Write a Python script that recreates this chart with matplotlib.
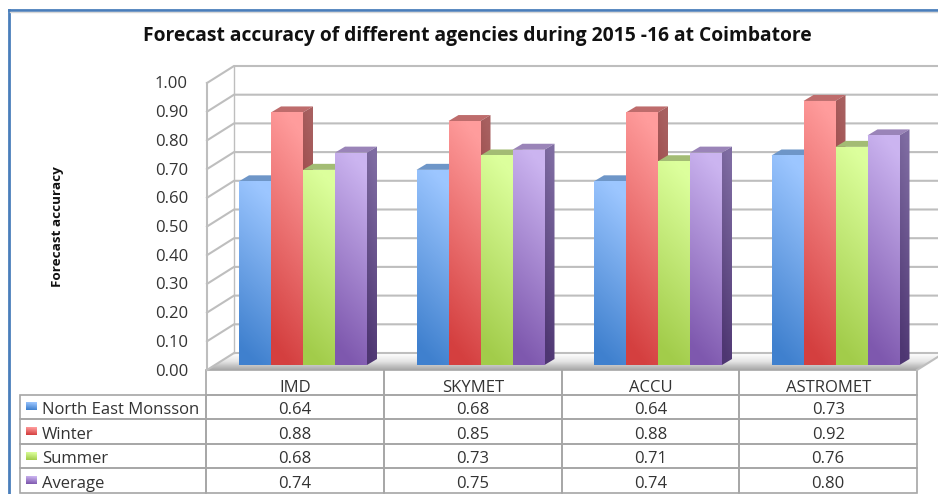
import matplotlib
matplotlib.use('Agg')
import matplotlib.pyplot as plt
import numpy as np
from matplotlib.colors import LinearSegmentedColormap
from matplotlib.patches import Polygon
from matplotlib.transforms import Affine2D

agencies = ['IMD', 'SKYMET', 'ACCU', 'ASTROMET']
seasons = ['North East Monsson', 'Winter', 'Summer', 'Average']
north_east = [0.64, 0.68, 0.64, 0.73]
winter = [0.88, 0.85, 0.88, 0.92]
summer = [0.68, 0.73, 0.71, 0.76]
average = [0.74, 0.75, 0.74, 0.80]
series = [north_east, winter, summer, average]
y_ticks = [0.0, 0.1, 0.2, 0.3, 0.4, 0.5, 0.6, 0.7, 0.8, 0.9, 1.0]

# light end, dark end of each front face, then top face and side face
front_cols = [('#9CC6FF', '#3F80CE'), ('#FF9C9C', '#D43F3F'),
              ('#DCFF9C', '#A2CC4A'), ('#CBB4F0', '#7E58AE')]
top_cols = ['#6E96C8', '#BE6C6C', '#A3BC74', '#9A84B8']
side_cols = [('#7C9CC8', '#2F5F9C'), ('#A86060', '#8E2E2E'),
             ('#93AD66', '#6F8C32'), ('#7F6CA2', '#4E3672')]

W, H = 938, 494
fig = plt.figure(figsize=(W / 100, H / 100), dpi=100)
plt.rcParams['font.family'] = ['Open Sans', 'DejaVu Sans']

# x axis runs one unit per agency, y axis is the forecast accuracy itself
ax = fig.add_axes([207 / W, (H - 370) / H, 710 / W, 287 / H])
ax.axis('off')
px = 1 / 177.5
py = 1 / 287

wall_dx, wall_dy = 27 * px, 17 * py
bar_w, bar_gap = 32 * px, 32 * px
depth_x, depth_y = 10 * px, 6 * py
base = 5 * py
grid_col = '#BEBEBE'

# slanted ramp used for every shaded face
ramp = np.linspace(0, 1, 40).reshape(-1, 1) + np.linspace(-0.08, 0.08, 10).reshape(1, -1)
ramp = np.clip(ramp, 0, 1)


def grad_fill(patch_xy, col1, col2, zorder):
    xy = np.array(patch_xy)
    cmap = LinearSegmentedColormap.from_list('g', [col2, col1])
    patch = Polygon(xy, closed=True, fc='none', ec='none')
    ax.add_patch(patch)
    im = ax.imshow(ramp, cmap=cmap, vmin=0, vmax=1, aspect='auto', origin='lower',
                   interpolation='bilinear', zorder=zorder,
                   extent=[xy[:, 0].min(), xy[:, 0].max(), xy[:, 1].min(), xy[:, 1].max()])
    im.set_clip_path(patch)
    im.set_clip_box(fig.bbox)   # keys and right side of the floor sit outside the axes


# floor
floor = [(0, 0), (4, 0), (4 + wall_dx, wall_dy), (wall_dx, wall_dy)]
floor_cmap = LinearSegmentedColormap.from_list('f', ['#A8A8A8', '#E4E4E4', '#FFFFFF'])
floor_patch = Polygon(floor, closed=True, fc='none', ec='none')
ax.add_patch(floor_patch)
im = ax.imshow(np.linspace(0, 1, 20).reshape(-1, 1), cmap=floor_cmap, aspect='auto', origin='lower',
               extent=[0, 4 + wall_dx, 0, wall_dy], zorder=1, interpolation='bilinear')
im.set_clip_path(floor_patch)
im.set_clip_box(fig.bbox)

# walls and gridlines
for t in y_ticks:
    ax.plot([0, wall_dx, 4 + wall_dx], [t, t + wall_dy, t + wall_dy], color=grid_col, lw=1.5,
            zorder=2, clip_on=False, solid_joinstyle='miter')
    ax.text(-19 * px, t - 1.5 * py, f'{t:.2f}', ha='right', va='center', fontsize=12, color='#333333')
ax.plot([0, 0], [0, 1], color=grid_col, lw=1.5, zorder=2, clip_on=False)
ax.plot([wall_dx, wall_dx], [wall_dy, 1 + wall_dy], color=grid_col, lw=1.0, zorder=2, clip_on=False)
ax.plot([4, 4 + wall_dx], [0, wall_dy], color=grid_col, lw=1.5, zorder=2, clip_on=False)

# bars, left to right so the next front face hides the previous side face
z = 3
for i in range(len(agencies)):
    for s in range(len(seasons)):
        x0 = i + bar_gap + s * bar_w
        x1 = x0 + bar_w
        y1 = base + series[s][i]
        top = [(x0, y1), (x1, y1), (x1 + depth_x, y1 + depth_y), (x0 + depth_x, y1 + depth_y)]
        ax.add_patch(Polygon(top, closed=True, fc=top_cols[s], ec='none', zorder=z))
        side = [(x1, base), (x1 + depth_x, base + depth_y), (x1 + depth_x, y1 + depth_y), (x1, y1)]
        grad_fill(side, side_cols[s][0], side_cols[s][1], z)
        front = [(x0, base), (x1, base), (x1, y1), (x0, y1)]
        grad_fill(front, front_cols[s][0], front_cols[s][1], z + 0.5)
        z += 1

# data table under the chart
row_px = 24.6
cell_text = [[''] + agencies]
for s in range(len(seasons)):
    cell_text.append([seasons[s]] + [f'{v:.2f}' for v in series[s]])
tbl = ax.table(cellText=cell_text, cellLoc='center',
               colWidths=[186 / 896] + [177.5 / 896] * 4,
               bbox=[-187 / 710, -123 / 287, 897 / 710, 123 / 287])
tbl.auto_set_font_size(False)
tbl.set_fontsize(12)
for (r, c), cell in tbl.get_celld().items():
    cell.set_edgecolor('#A6A6A6')
    cell.set_linewidth(1.2)
    cell.set_facecolor('none')
    cell.get_text().set_color('#333333')
    # cell text is placed in pixels, nudge it down like the source
    cell.get_text().set_transform(Affine2D().translate(0, -6 if r == 0 else -3))
    if r == 0 and c == 0:
        cell.visible_edges = ''
    if r > 0 and c == 0:
        cell.PAD = 0.118
        cell.get_text().set_ha('left')

# legend keys inside the first table column
for s in range(len(seasons)):
    yc = -(24 + row_px * (s + 0.5)) * py
    key = [(-181 * px, yc - 4 * py), (-170 * px, yc - 4 * py), (-170 * px, yc + 4 * py), (-181 * px, yc + 4 * py)]
    grad_fill(key, front_cols[s][0], front_cols[s][1], 200)

ax.set_xlim(0, 4)
ax.set_ylim(0, 1)

fig.text(477 / W, 1 - 36 / H, 'Forecast accuracy of different agencies during 2015 -16 at Coimbatore',
         ha='center', va='center', fontsize=13.9, fontweight='bold', color='#111111')
fig.text(58 / W, 1 - 227 / H, 'Forecast accuracy', rotation=90, ha='center', va='center',
         fontsize=9.7, fontweight='bold', color='#111111')

# outer frame of the pasted chart
fig.add_artist(plt.Line2D([9 / W, 9 / W], [0, 1 - 10 / H], color='#4A7EBB', lw=2))
fig.add_artist(plt.Line2D([9 / W, 1], [1 - 10 / H, 1 - 10 / H], color='#4A7EBB', lw=2))
fig.add_artist(plt.Line2D([10 / W, 1], [1 - 12 / H, 1 - 12 / H], color='#D8D8D8', lw=1))

fig.savefig('out.png', dpi=100)
